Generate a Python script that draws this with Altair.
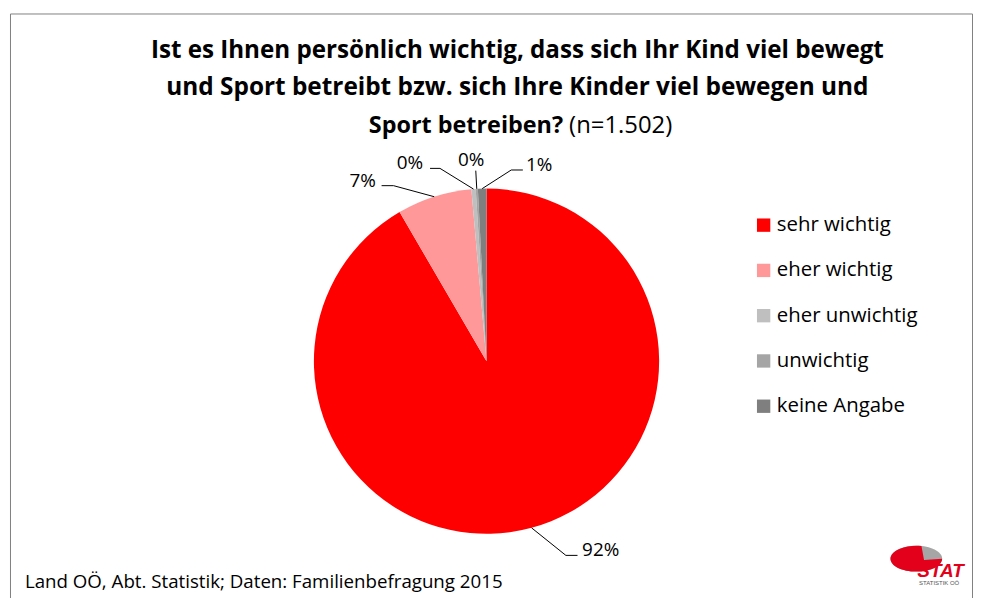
import altair as alt
import pandas as pd

# ---------------- data ----------------
categories = ["sehr wichtig", "eher wichtig", "eher unwichtig", "unwichtig", "keine Angabe"]
values = [91.6, 7.0, 0.4, 0.2, 0.8]
colors = ["#FF0000", "#FF9999", "#BFBFBF", "#A5A5A5", "#7F7F7F"]

title_line1 = "Ist es Ihnen persönlich wichtig, dass sich Ihr Kind viel bewegt"
title_line2 = "und Sport betreibt bzw. sich Ihre Kinder viel bewegen und"
title_line3_bold = "Sport betreiben?"
title_line3_regular = "(n=1.502)"
source_text = "Land OÖ, Abt. Statistik; Daten: Familienbefragung 2015"
logo_text = "STAT"
logo_sub = "STATISTIK OÖ"

# ---------------- label layout (leader-line offsets in px) ----------------
elbow_dx = [34.5, -40.9, -33.7, -1.0, 29.2]
elbow_dy = [27.7, -11.1, -20.8, -18.3, -18.75]
tail_dx = [11.7, -12.0, -10.0, 0.0, 11.7]
label_dx = [35.0, -31.0, -30.2, -4.7, 28.0]
label_dy = [1.0, 1.0, 0.6, -5.0, 0.7]

W, H = 970, 590
CX, CY, R = 481.0, 353.5, 173.5
FONT = "Open Sans"

df = pd.DataFrame({
    "category": categories,
    "value": values,
    "order": list(range(len(categories))),
    "edx": elbow_dx, "edy": elbow_dy, "tdx": tail_dx,
    "ldx": label_dx, "ldy": label_dy,
})

pie = alt.Chart(df).mark_arc(outerRadius=R).encode(
    theta=alt.Theta("value:Q", stack=True),
    color=alt.Color(
        "category:N",
        scale=alt.Scale(domain=categories, range=colors),
        sort=categories,
        legend=alt.Legend(
            title=None, orient="none", legendX=749.3, legendY=206.5,
            symbolType="square", symbolSize=180, symbolStrokeWidth=0,
            symbolOpacity=1, labelFont=FONT, labelFontSize=20.5,
            labelColor="#000000", rowPadding=24.5, labelOffset=3,
            padding=0, labelLimit=400,
        ),
    ),
    order=alt.Order("order:Q"),
    x=alt.value(CX),
    y=alt.value(CY),
)

base = (
    alt.Chart(df)
    .transform_window(cum="sum(value)", sort=[alt.SortField("order")], frame=[None, 0])
    .transform_joinaggregate(total="sum(value)")
    .transform_calculate(mid="(datum.cum - datum.value / 2) / datum.total * 2 * PI")
    .transform_calculate(ex=f"{CX} + {R} * sin(datum.mid)")
    .transform_calculate(ey=f"{CY} - {R} * cos(datum.mid)")
    .transform_calculate(bx="datum.ex + datum.edx")
    .transform_calculate(by="datum.ey + datum.edy")
    .transform_calculate(tx="datum.bx + datum.tdx")
    .transform_calculate(lx="datum.bx + datum.ldx")
    .transform_calculate(ly="datum.by + datum.ldy")
    .transform_calculate(pct="datum.value / datum.total")
)

seg1 = base.mark_rule(color="#000000", strokeWidth=1).encode(
    x=alt.X("ex:Q", scale=None, axis=None),
    y=alt.Y("ey:Q", scale=None, axis=None),
    x2=alt.X2("bx"),
    y2=alt.Y2("by"),
)
seg2 = base.transform_filter("datum.tdx != 0").mark_rule(color="#000000", strokeWidth=1).encode(
    x=alt.X("bx:Q", scale=None, axis=None),
    y=alt.Y("by:Q", scale=None, axis=None),
    x2=alt.X2("tx"),
)
labels = base.mark_text(font=FONT, fontSize=19, align="center", baseline="alphabetic", color="#000000").encode(
    x=alt.X("lx:Q", scale=None, axis=None),
    y=alt.Y("ly:Q", scale=None, axis=None),
    text=alt.Text("pct:Q", format=".0%"),
)


def txt(s, x, y, size, weight="normal", align="center", color="#000000", font=FONT, style="normal"):
    return alt.Chart(pd.DataFrame({"t": [s]})).mark_text(
        font=font, fontSize=size, fontWeight=weight, fontStyle=style, align=align,
        baseline="alphabetic", color=color,
    ).encode(x=alt.value(x), y=alt.value(y), text="t:N")


t1 = txt(title_line1, 512, 48.7, 24.3, "bold")
t2 = txt(title_line2, 512, 86.0, 24.5, "bold")
t3a = txt(title_line3_bold, 558, 123.7, 23.5, "bold", align="right")
t3b = txt(title_line3_regular, 564, 123.7, 24, "normal", align="left")
foot = txt(source_text, 17, 581.3, 18.8, "normal", align="left")

frame = alt.Chart(pd.DataFrame({"f": [1]})).mark_rect(
    fillOpacity=0, stroke="#808080", strokeWidth=1
).encode(x=alt.value(2.5), x2=alt.value(969.5), y=alt.value(4.5), y2=alt.value(620))

one = pd.DataFrame({"f": [1]})
ellipse_gray = alt.Chart(one).mark_point(
    shape="M -1 0 A 1 0.5 0 1 1 1 0 A 1 0.5 0 1 1 -1 0 Z",
    size=2700, filled=True, color="#A6A6A6", opacity=1, strokeWidth=0,
).encode(x=alt.value(913), y=alt.value(552))
ellipse_red = alt.Chart(one).mark_point(
    shape="M 0.2 -0.49 L 0.3 0.05 L 1 0 A 1 0.5 0 0 1 -1 0 A 1 0.5 0 0 1 0.2 -0.49 Z",
    size=2700, filled=True, color="#E2001A", opacity=1, strokeWidth=0,
).encode(x=alt.value(913), y=alt.value(552))
logo1 = txt(logo_text, 914, 570, 19, "bold", align="left", color="#E2001A", font="Liberation Sans", style="italic")
logo2 = txt(logo_sub, 936, 578, 6, "normal", align="center", color="#555555", font="Liberation Sans")

chart = alt.layer(
    frame, pie, seg1, seg2, labels, t1, t2, t3a, t3b, foot, ellipse_gray, ellipse_red, logo1, logo2
).properties(
    width=W, height=H, autosize=alt.AutoSizeParams(type="none"), padding=0, background="#FFFFFF"
).configure_view(strokeWidth=0)

chart.save("out.html", embed_options={"renderer": "svg", "actions": False})
